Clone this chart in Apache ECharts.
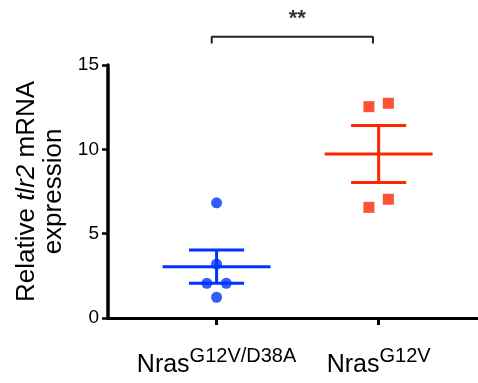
<!DOCTYPE html>
<html>
<head>
<meta charset="utf-8">
<style>
  html, body { margin: 0; padding: 0; background: #fff; }
  #chart { width: 478px; height: 383px; }
</style>
<script src="https://cdn.jsdelivr.net/npm/echarts@6/dist/echarts.min.js"></script>
</head>
<body>
<div id="chart"></div>
<script>
// group labels (superscripts after "Nras")
const groups = ['G12V/D38A', 'G12V']
const groupPos = [1, 2]

// individual points
const blueX = [1, 1, 0.94, 1.06, 1]
const blueY = [6.83, 3.2, 2.06, 2.06, 1.23]
const redX = [1.94, 2.06, 2.06, 1.94]
const redY = [12.53, 12.73, 7.04, 6.56]

// mean and SEM bars
const means = [3.04, 9.72]
const semLow = [2.06, 8.04]
const semHigh = [4.03, 11.42]

const yTicks = [0, 5, 10, 15]
const colors = ['#0033ff', '#ff2600']

// significance bracket
const bracketX = [0.97, 1.965]
const bracketY = [16.28, 16.67]
const starLabel = '**'

const font = '"Liberation Sans", Arial, sans-serif'

const chart = echarts.init(document.getElementById('chart'))

const meanHalf = 0.333
const capHalf = 0.17

function errorBar(params, api) {
  const x = api.value(0)
  const m = api.value(1)
  const lo = api.value(2)
  const hi = api.value(3)
  const c = colors[params.dataIndex]
  const style = { stroke: c, lineWidth: 3 }
  const seg = (a, b) => {
    const p1 = api.coord(a)
    const p2 = api.coord(b)
    return { type: 'line', shape: { x1: p1[0], y1: p1[1], x2: p2[0], y2: p2[1] }, style }
  }
  return {
    type: 'group',
    children: [
      seg([x - meanHalf, m], [x + meanHalf, m]),
      seg([x - capHalf, lo], [x + capHalf, lo]),
      seg([x - capHalf, hi], [x + capHalf, hi]),
      seg([x, lo], [x, hi])
    ]
  }
}

const option = {
  animation: false,
  grid: { left: 108, right: 1, top: 65, bottom: 65 },
  xAxis: {
    type: 'value',
    min: 0.33,
    max: 2.607,
    splitLine: { show: false },
    axisLine: { lineStyle: { color: '#000', width: 3 } },
    axisTick: { show: true, customValues: groupPos, length: 7, lineStyle: { color: '#000', width: 3 } },
    axisLabel: {
      customValues: groupPos,
      margin: 28,
      formatter: (v) => '{n|Nras}{s|' + groups[groupPos.indexOf(v)] + '}',
      rich: {
        n: { fontFamily: font, fontSize: 25, color: '#000', lineHeight: 32, verticalAlign: 'bottom' },
        s: { fontFamily: font, fontSize: 20, color: '#000', lineHeight: 20, verticalAlign: 'top' }
      }
    }
  },
  yAxis: {
    type: 'value',
    min: 0,
    max: 15,
    interval: 5,
    splitLine: { show: false },
    axisLine: { show: true, lineStyle: { color: '#000', width: 3.5 } },
    axisTick: { show: true, length: 6, lineStyle: { color: '#000', width: 2.5 } },
    axisLabel: {
      margin: 9,
      fontFamily: font,
      fontSize: 19,
      color: '#000',
      formatter: (v) => (yTicks.includes(v) ? String(v) : '')
    },
    name: '{a|Relative }{i|tlr2}{a| mRNA}\n{a|expression}',
    nameLocation: 'middle',
    nameGap: 40,
    nameRotate: 90,
    nameTextStyle: {
      rich: {
        a: { fontFamily: font, fontSize: 26, color: '#000', lineHeight: 27 },
        i: { fontFamily: font, fontSize: 26, color: '#000', lineHeight: 27, fontStyle: 'italic' }
      }
    }
  },
  series: [
    {
      type: 'custom',
      renderItem: errorBar,
      data: groupPos.map((x, i) => [x, means[i], semLow[i], semHigh[i]]),
      z: 2
    },
    {
      type: 'scatter',
      symbol: 'circle',
      symbolSize: 11,
      itemStyle: { color: colors[0] },
      data: blueX.map((x, i) => [x, blueY[i]]),
      z: 3
    },
    {
      type: 'scatter',
      symbol: 'rect',
      symbolSize: 11,
      itemStyle: { color: colors[1] },
      data: redX.map((x, i) => [x, redY[i]]),
      z: 3
    },
    {
      type: 'line',
      clip: false,
      symbol: 'none',
      lineStyle: { color: '#222', width: 2 },
      data: [
        [bracketX[0], bracketY[0]],
        [bracketX[0], bracketY[1]],
        [bracketX[1], bracketY[1]],
        [bracketX[1], bracketY[0]]
      ],
      z: 1
    },
    {
      type: 'scatter',
      clip: false,
      symbolSize: 0,
      data: [[(bracketX[0] + bracketX[1]) / 2 + 0.03, 17.75]],
      label: {
        show: true,
        position: 'inside',
        formatter: starLabel,
        fontFamily: font,
        fontSize: 22,
        fontWeight: 'bold',
        color: '#000'
      }
    }
  ]
}

chart.setOption(option)
</script>
</body>
</html>
